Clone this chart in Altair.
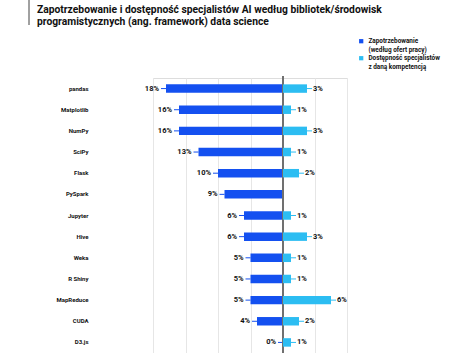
import altair as alt
import pandas as pd

categories = ["pandas", "Matplotlib", "NumPy", "SciPy", "Flask", "PySpark", "Jupyter",
              "Hive", "Weka", "R Shiny", "MapReduce", "CUDA", "D3.js"]
demand = [18, 16, 16, 13, 10, 9, 6, 6, 5, 5, 5, 4, 0]
supply = [3, 1, 3, 1, 2, None, 1, 3, 1, 1, 6, 2, 1]
series = ["Zapotrzebowanie|(według ofert pracy)", "Dostępność specjalistów|z daną kompetencją"]
colors = ["#1450F0", "#2CBDF2"]
title_lines = ["Zapotrzebowanie i dostępność specjalistów AI według bibliotek/środowisk",
               "programistycznych (ang. framework) data science"]

FONT = "Roboto"
W, H = 194, 275

df = pd.DataFrame({"kategoria": categories, "popyt": demand, "podaz": supply})

y_enc = alt.Y("kategoria:N", sort=categories,
              scale=alt.Scale(paddingInner=0.6, paddingOuter=0.3),
              axis=alt.Axis(title=None, ticks=False, domain=False, labelPadding=65,
                            labelFontSize=6, labelFont=FONT, labelFontWeight="bold",
                            labelColor="#111111", grid=False))
y_plain = alt.Y("kategoria:N", sort=categories)

color_scale = alt.Scale(domain=series, range=colors)
legend = alt.Legend(orient="none", legendX=205, legendY=-40, title=None,
                    labelExpr="split(datum.label, '|')", labelFontSize=6.4,
                    labelFont=FONT, labelFontWeight="bold", labelColor="#111111",
                    symbolType="square", symbolSize=18, symbolStrokeWidth=0,
                    labelLimit=0, rowPadding=2)

left_scale = alt.Scale(domain=[20, 0], range=[0, 130])
right_scale = alt.Scale(domain=[0, 8], range=[130, W])

left_x = alt.X("popyt:Q", scale=left_scale,
               axis=alt.Axis(values=[20, 15, 10, 5], grid=True, labels=False, ticks=False,
                             domain=False, title=None, gridColor="#e6e6e6", orient="bottom"))
right_x = alt.X("podaz:Q", scale=right_scale,
                axis=alt.Axis(values=[4, 8], grid=True, labels=False, ticks=False,
                              domain=False, title=None, gridColor="#e6e6e6", orient="bottom"))

base = alt.Chart(df).transform_calculate(
    lab_l="datum.popyt + '%'", lab_r="datum.podaz + '%'",
    s_l=f"'{series[0]}'", s_r=f"'{series[1]}'")

left_bars = base.mark_bar().encode(
    x=left_x, y=y_enc,
    color=alt.Color("s_l:N", scale=color_scale, legend=legend))
left_dash = base.mark_rule(color=colors[0], strokeWidth=1, x2Offset=-5).encode(
    x="popyt:Q", x2="popyt:Q", y=y_plain)
left_text = base.mark_text(align="right", dx=-7, fontSize=7.5, fontWeight="bold",
                           font=FONT, color="#111111").encode(
    x="popyt:Q", y=y_plain, text="lab_l:N")
zero_line = base.mark_rule(color="#707070", strokeWidth=1.5).encode(
    x=alt.datum(0), y=alt.value(-2), y2=alt.value(H))
deco = base.mark_rule(color="#a0a0a0", strokeWidth=1).encode(
    x=alt.value(-124), y=alt.value(-78), y2=alt.value(-53))

left = alt.layer(left_bars, left_dash, left_text, zero_line, deco)

rbase = base.transform_filter("isValid(datum.podaz)")
right_bars = rbase.mark_bar().encode(
    x=right_x, y=y_plain,
    color=alt.Color("s_r:N", scale=color_scale, legend=legend))
right_dash = rbase.mark_rule(color=colors[1], strokeWidth=1, x2Offset=5).encode(
    x="podaz:Q", x2="podaz:Q", y=y_plain)
right_text = rbase.mark_text(align="left", dx=6, fontSize=7.5, fontWeight="bold",
                             font=FONT, color="#111111").encode(
    x="podaz:Q", y=y_plain, text="lab_r:N")

right = alt.layer(right_bars, right_dash, right_text)

chart = alt.layer(left, right).resolve_scale(x="independent").properties(
    width=W, height=H,
    autosize=alt.AutoSizeParams(type="none"),
    padding={"left": 153, "top": 78, "right": 127, "bottom": 0},
    title=alt.Title(text=title_lines, anchor="start", frame="group", dx=-116, offset=-27.5,
                    fontSize=10.3, font=FONT, fontWeight="bold", color="#111111",
                    lineHeight=12),
).configure_view(strokeWidth=0, stroke=None, fill="white").configure_axis(
    domain=False, domainWidth=0).configure(background="white")

chart.save("out.html", embed_options={"renderer": "svg", "actions": False})
